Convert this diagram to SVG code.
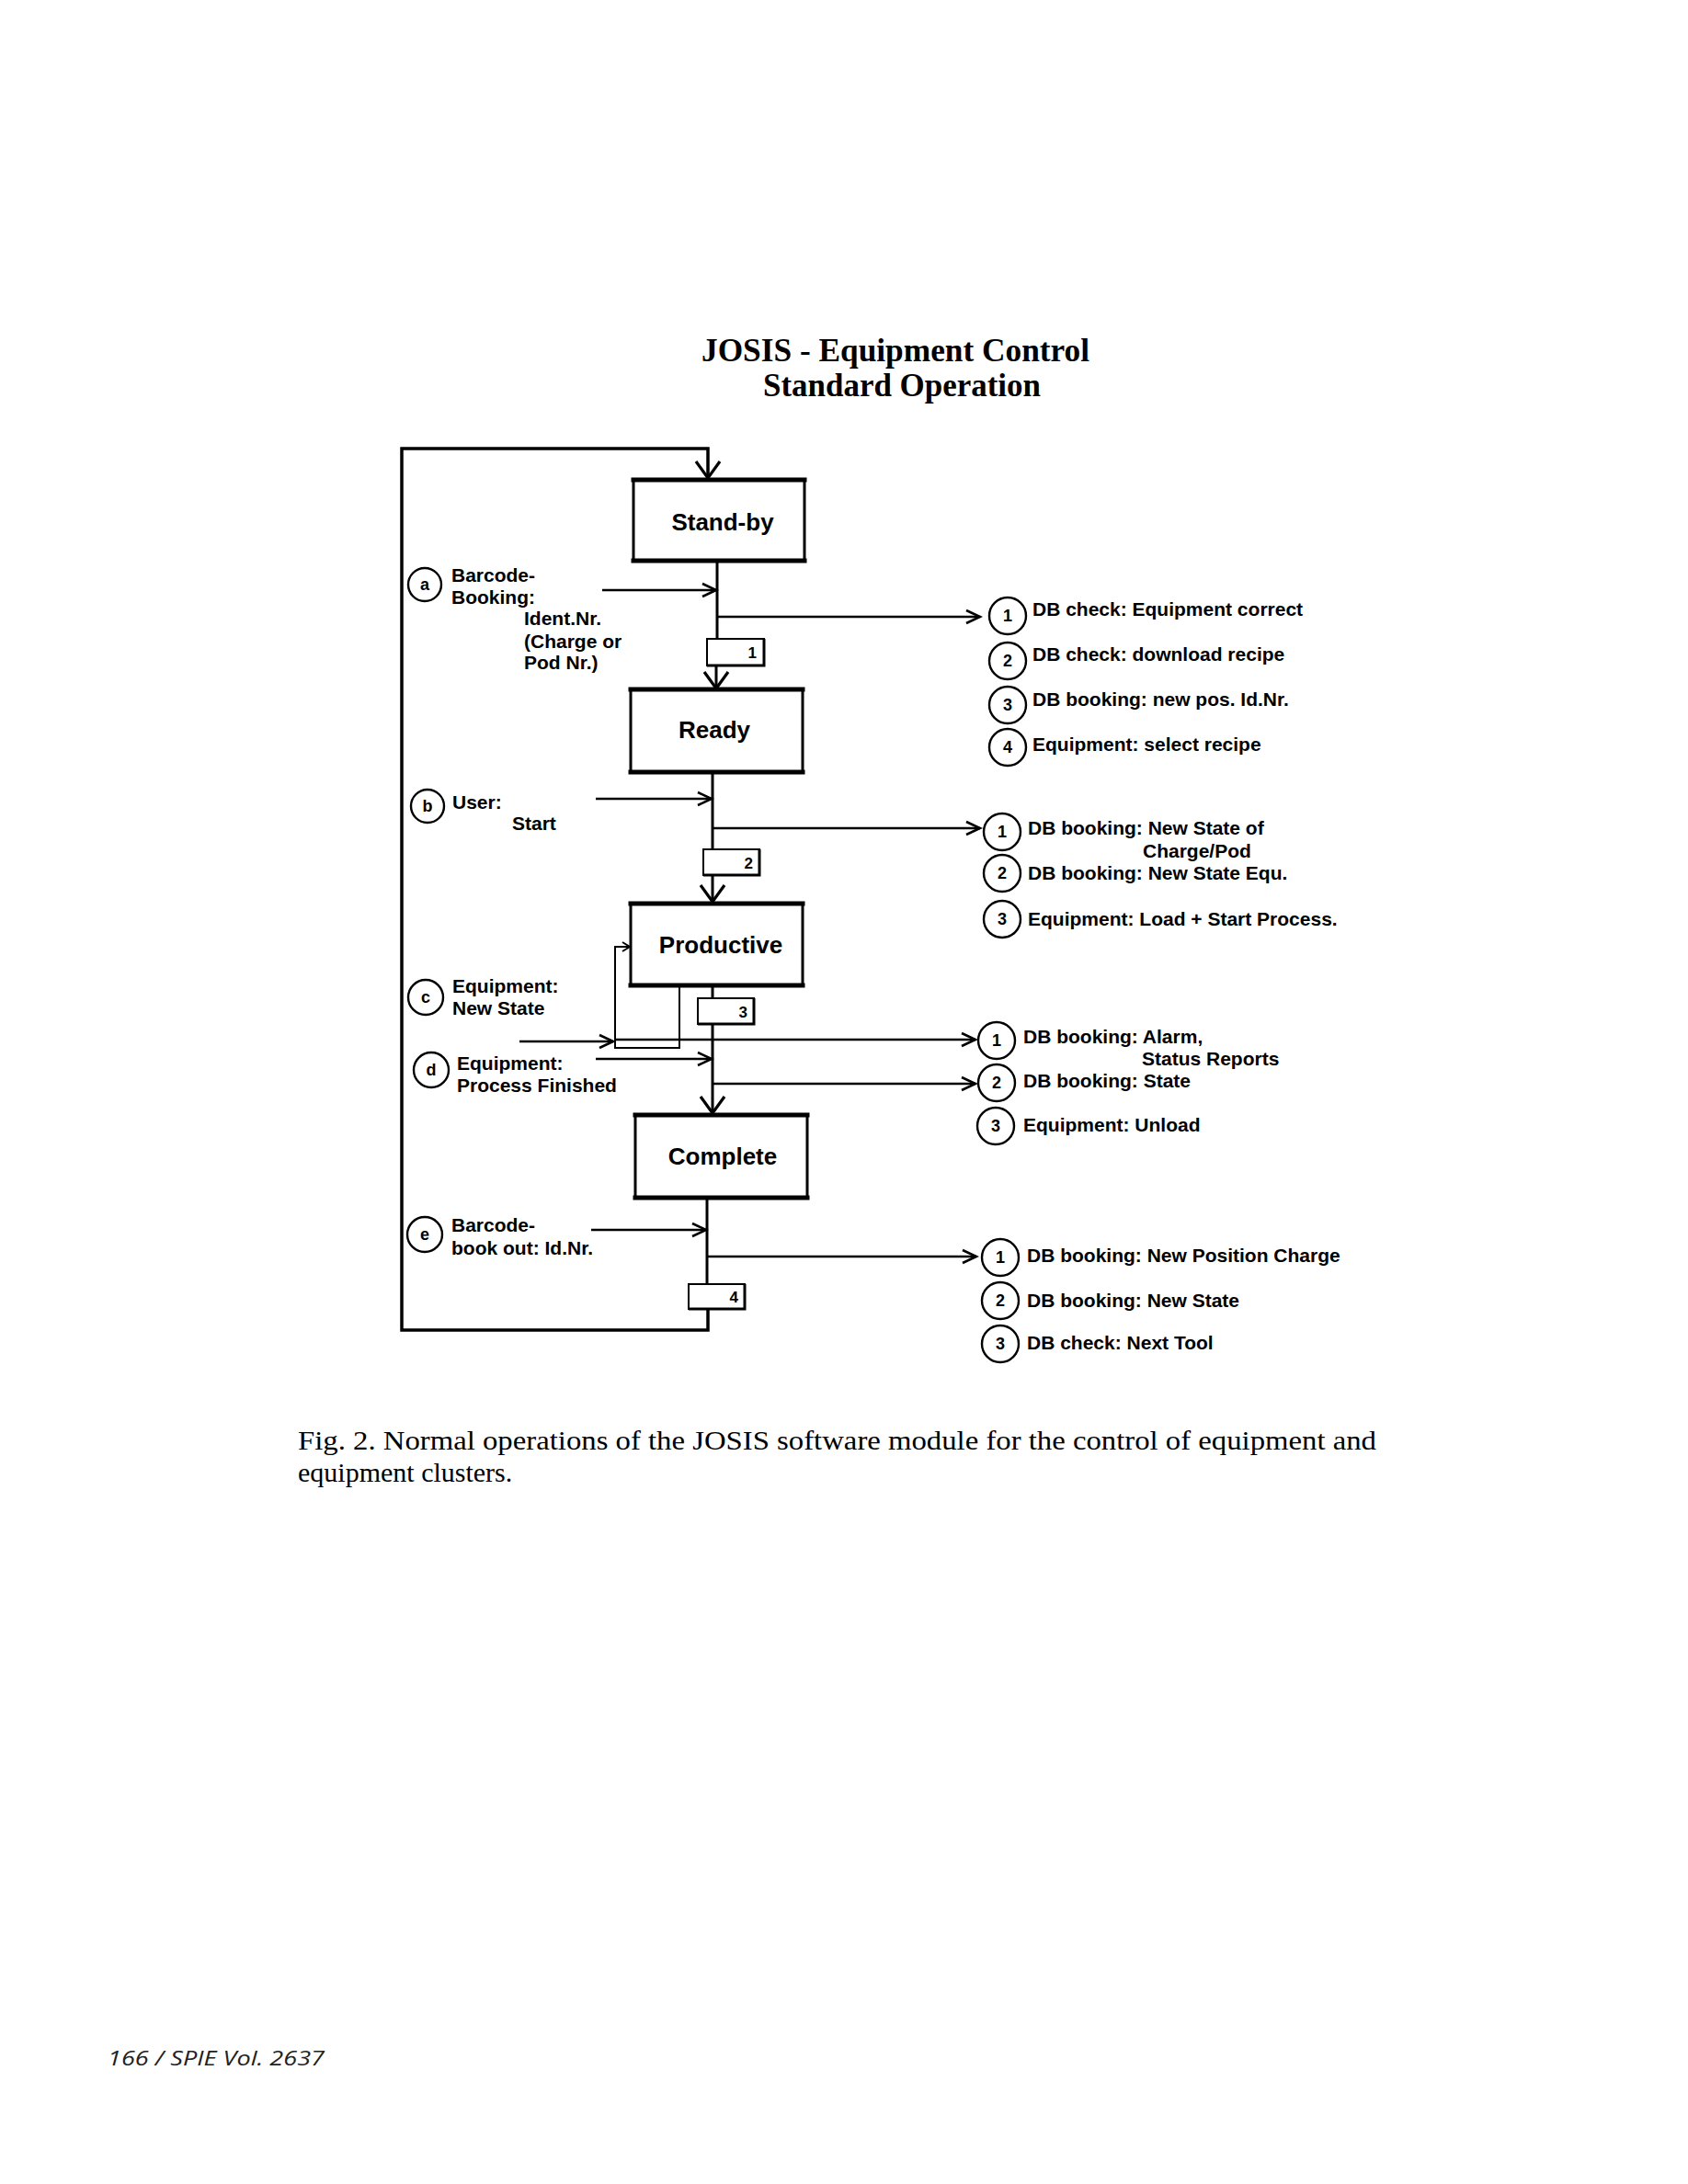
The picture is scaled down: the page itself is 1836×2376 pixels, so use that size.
<svg xmlns="http://www.w3.org/2000/svg" width="1836" height="2376" viewBox="0 0 1836 2376">
<style>
.t{font-family:"Liberation Sans",Arial,sans-serif;font-weight:bold;font-size:21px;fill:#000}
.bx{font-family:"Liberation Sans",Arial,sans-serif;font-weight:bold;font-size:26px;fill:#000;text-anchor:middle}
.num{font-family:"Liberation Sans",Arial,sans-serif;font-weight:bold;font-size:18px;fill:#000;text-anchor:middle}
.bn{font-family:"Liberation Sans",Arial,sans-serif;font-weight:bold;font-size:17px;fill:#000;text-anchor:end}
.ttl{font-family:"Liberation Serif","Times New Roman",serif;font-weight:bold;font-size:36px;fill:#000}
.cap{font-family:"Liberation Serif","Times New Roman",serif;font-size:30px;fill:#000}
.foot{font-family:"Open Sans","Liberation Sans",sans-serif;font-style:italic;font-size:21px;fill:#222}
.state{fill:#fff;stroke:#000;stroke-width:3}
.edge{stroke:#000;stroke-width:5;stroke-linecap:square}
.nb{fill:#fff;stroke:#000;stroke-width:2}
.nbe{stroke:#000;stroke-width:3;fill:none}
.circ{fill:#fff;stroke:#000;stroke-width:2.4}
.main{stroke:#000;stroke-width:3;fill:none}
.frame{stroke:#000;stroke-width:3.5;fill:none}
.in{stroke:#000;stroke-width:2.6;fill:none}
.thin{stroke:#000;stroke-width:2;fill:none}
</style>
<defs>
<marker id="big" markerUnits="userSpaceOnUse" viewBox="-21 -16 24 32" refX="0" refY="0" markerWidth="24" markerHeight="32" orient="auto">
<path d="M-18,-13 L0,0 L-18,13" fill="none" stroke="#000" stroke-width="3.2"/>
</marker>
<marker id="sm" markerUnits="userSpaceOnUse" viewBox="-17 -9 20 18" refX="0" refY="0" markerWidth="20" markerHeight="18" orient="auto">
<path d="M-15,-7 L0,0 L-15,7" fill="none" stroke="#000" stroke-width="2.6"/>
</marker>
<marker id="tiny" markerUnits="userSpaceOnUse" viewBox="-10 -7 12 14" refX="0" refY="0" markerWidth="12" markerHeight="14" orient="auto">
<path d="M-8,-5 L0,0 L-8,5" fill="none" stroke="#000" stroke-width="2"/>
</marker>
</defs>
<rect width="1836" height="2376" fill="#fff"/>

<g id="title">
<text class="ttl" x="763" y="393" textLength="422" lengthAdjust="spacingAndGlyphs">JOSIS - Equipment Control</text>
<text class="ttl" x="830" y="431" textLength="302" lengthAdjust="spacingAndGlyphs">Standard Operation</text>
</g>

<g id="connectors">
<!-- outer loop frame -->
<polyline class="frame" points="770,1424 770,1447 437,1447 437,488 770,488 770,520" marker-end="url(#big)"/>
<!-- stems -->
<line class="main" x1="780" y1="610" x2="780" y2="695"/>
<line class="main" x1="779" y1="724" x2="779" y2="749" marker-end="url(#big)"/>
<line class="main" x1="775" y1="840" x2="775" y2="924"/>
<line class="main" x1="775" y1="952" x2="775" y2="981" marker-end="url(#big)"/>
<line class="main" x1="775" y1="1072" x2="775" y2="1086"/>
<line class="main" x1="775" y1="1114" x2="775" y2="1211" marker-end="url(#big)"/>
<line class="main" x1="769" y1="1303" x2="769" y2="1397"/>
<!-- inputs -->
<line class="in" x1="655" y1="642" x2="779" y2="642" marker-end="url(#sm)"/>
<line class="in" x1="648" y1="869" x2="774" y2="869" marker-end="url(#sm)"/>
<line class="in" x1="565" y1="1133" x2="667" y2="1133" marker-end="url(#sm)"/>
<line class="in" x1="648" y1="1152" x2="774" y2="1152" marker-end="url(#sm)"/>
<line class="in" x1="643" y1="1338" x2="768" y2="1338" marker-end="url(#sm)"/>
<!-- feedback loop at Productive -->
<polyline class="thin" points="739,1072 739,1140 669,1140 669,1030 685,1030" marker-end="url(#tiny)"/>
<!-- outputs -->
<line class="in" x1="780" y1="671" x2="1066" y2="671" marker-end="url(#sm)"/>
<line class="in" x1="775" y1="901" x2="1066" y2="901" marker-end="url(#sm)"/>
<line class="in" x1="669" y1="1131" x2="1061" y2="1131" marker-end="url(#sm)"/>
<line class="in" x1="775" y1="1179" x2="1061" y2="1179" marker-end="url(#sm)"/>
<line class="in" x1="769" y1="1367" x2="1062" y2="1367" marker-end="url(#sm)"/>
</g>

<g id="standby">
<rect class="state" x="689" y="522" width="186" height="88"/>
<line class="edge" x1="689" y1="522" x2="875" y2="522"/>
<line class="edge" x1="689" y1="610" x2="875" y2="610"/>
<text class="bx" x="786" y="577">Stand-by</text>
</g>
<g id="ready">
<rect class="state" x="686" y="750" width="187" height="90"/>
<line class="edge" x1="686" y1="750" x2="873" y2="750"/>
<line class="edge" x1="686" y1="840" x2="873" y2="840"/>
<text class="bx" x="777" y="803">Ready</text>
</g>
<g id="productive">
<rect class="state" x="686" y="983" width="187" height="89"/>
<line class="edge" x1="686" y1="983" x2="873" y2="983"/>
<line class="edge" x1="686" y1="1072" x2="873" y2="1072"/>
<text class="bx" x="784" y="1037">Productive</text>
</g>
<g id="complete">
<rect class="state" x="691" y="1213" width="187" height="90"/>
<line class="edge" x1="691" y1="1213" x2="878" y2="1213"/>
<line class="edge" x1="691" y1="1303" x2="878" y2="1303"/>
<text class="bx" x="786" y="1267">Complete</text>
</g>

<g id="trans1">
<rect class="nb" x="769" y="695" width="62" height="29"/>
<polyline class="nbe" points="831,695 831,724 769,724"/>
<text class="bn" x="823" y="716">1</text>
</g>
<g id="trans2">
<rect class="nb" x="765" y="924" width="61" height="28"/>
<polyline class="nbe" points="826,924 826,952 765,952"/>
<text class="bn" x="819" y="945">2</text>
</g>
<g id="trans3">
<rect class="nb" x="759" y="1086" width="61" height="28"/>
<polyline class="nbe" points="820,1086 820,1114 759,1114"/>
<text class="bn" x="813" y="1107">3</text>
</g>
<g id="trans4">
<rect class="nb" x="749" y="1397" width="61" height="27"/>
<polyline class="nbe" points="810,1397 810,1424 749,1424"/>
<text class="bn" x="803" y="1417">4</text>
</g>

<g id="event-a">
<circle class="circ" cx="462" cy="636" r="18"/>
<text class="num" x="462" y="642">a</text>
<text class="t" x="491" y="633">Barcode-</text>
<text class="t" x="491" y="657">Booking:</text>
<text class="t" x="570" y="680">Ident.Nr.</text>
<text class="t" x="570" y="705">(Charge or</text>
<text class="t" x="570" y="728">Pod Nr.)</text>
</g>
<g id="event-b">
<circle class="circ" cx="465" cy="877" r="18"/>
<text class="num" x="465" y="883">b</text>
<text class="t" x="492" y="880">User:</text>
<text class="t" x="557" y="903">Start</text>
</g>
<g id="event-c">
<circle class="circ" cx="463" cy="1085" r="19"/>
<text class="num" x="463" y="1091">c</text>
<text class="t" x="492" y="1080">Equipment:</text>
<text class="t" x="492" y="1104">New State</text>
</g>
<g id="event-d">
<circle class="circ" cx="469" cy="1164" r="19"/>
<text class="num" x="469" y="1170">d</text>
<text class="t" x="497" y="1164">Equipment:</text>
<text class="t" x="497" y="1188">Process Finished</text>
</g>
<g id="event-e">
<circle class="circ" cx="462" cy="1343" r="19"/>
<text class="num" x="462" y="1349">e</text>
<text class="t" x="491" y="1340">Barcode-</text>
<text class="t" x="491" y="1365">book out: Id.Nr.</text>
</g>

<g id="actions-1">
<circle class="circ" cx="1096" cy="670" r="20"/><text class="num" x="1096" y="676">1</text>
<text class="t" x="1123" y="670">DB check: Equipment correct</text>
<circle class="circ" cx="1096" cy="719" r="20"/><text class="num" x="1096" y="725">2</text>
<text class="t" x="1123" y="719">DB check: download recipe</text>
<circle class="circ" cx="1096" cy="767" r="20"/><text class="num" x="1096" y="773">3</text>
<text class="t" x="1123" y="768">DB booking: new pos. Id.Nr.</text>
<circle class="circ" cx="1096" cy="813" r="20"/><text class="num" x="1096" y="819">4</text>
<text class="t" x="1123" y="817">Equipment: select recipe</text>
</g>
<g id="actions-2">
<circle class="circ" cx="1090" cy="905" r="20"/><text class="num" x="1090" y="911">1</text>
<text class="t" x="1118" y="908">DB booking: New State of</text>
<text class="t" x="1243" y="933">Charge/Pod</text>
<circle class="circ" cx="1090" cy="950" r="20"/><text class="num" x="1090" y="956">2</text>
<text class="t" x="1118" y="957">DB booking: New State Equ.</text>
<circle class="circ" cx="1090" cy="1000" r="20"/><text class="num" x="1090" y="1006">3</text>
<text class="t" x="1118" y="1007">Equipment: Load + Start Process.</text>
</g>
<g id="actions-3">
<circle class="circ" cx="1084" cy="1132" r="20"/><text class="num" x="1084" y="1138">1</text>
<text class="t" x="1113" y="1135">DB booking: Alarm,</text>
<text class="t" x="1242" y="1159">Status Reports</text>
<circle class="circ" cx="1084" cy="1178" r="20"/><text class="num" x="1084" y="1184">2</text>
<text class="t" x="1113" y="1183">DB booking: State</text>
<circle class="circ" cx="1083" cy="1225" r="20"/><text class="num" x="1083" y="1231">3</text>
<text class="t" x="1113" y="1231">Equipment: Unload</text>
</g>
<g id="actions-4">
<circle class="circ" cx="1088" cy="1368" r="20"/><text class="num" x="1088" y="1374">1</text>
<text class="t" x="1117" y="1373">DB booking: New Position Charge</text>
<circle class="circ" cx="1088" cy="1415" r="20"/><text class="num" x="1088" y="1421">2</text>
<text class="t" x="1117" y="1422">DB booking: New State</text>
<circle class="circ" cx="1088" cy="1462" r="20"/><text class="num" x="1088" y="1468">3</text>
<text class="t" x="1117" y="1468">DB check: Next Tool</text>
</g>

<g id="caption">
<text class="cap" x="324" y="1577" textLength="1173" lengthAdjust="spacingAndGlyphs">Fig. 2. Normal operations of the JOSIS software module for the control of equipment and</text>
<text class="cap" x="324" y="1612">equipment clusters.</text>
</g>
<g id="footer">
<text class="foot" x="117" y="2247" textLength="236" lengthAdjust="spacingAndGlyphs">166 / SPIE Vol. 2637</text>
</g>
</svg>
